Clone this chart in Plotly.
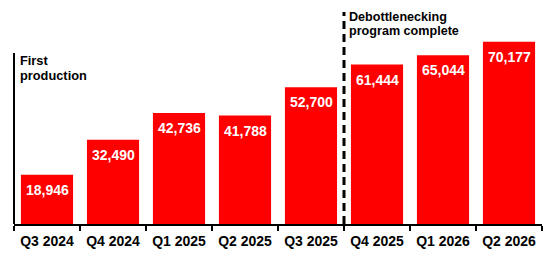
import plotly.graph_objects as go

categories = ["Q3 2024", "Q4 2024", "Q1 2025", "Q2 2025", "Q3 2025", "Q4 2025", "Q1 2026", "Q2 2026"]
values = [18946, 32490, 42736, 41788, 52700, 61444, 65044, 70177]
labels = [f"{v:,}" for v in values]

FONT = "Liberation Sans, Arial, sans-serif"
RED = "#FF0000"

fig = go.Figure()
fig.add_trace(go.Bar(
    x=categories, y=values, marker=dict(color=RED, line=dict(width=0)),
    width=0.79, hoverinfo="skip",
))

annotations = []
for c, v, t in zip(categories, values, labels):
    annotations.append(dict(
        x=c, y=v, xref="x", yref="y", text=f"<b>{t}</b>", showarrow=False,
        yanchor="top", yshift=-5, font=dict(family=FONT, size=14, color="white"),
    ))

# Text notes
annotations.append(dict(x=0, y=(224 - 51) / 204, xref="paper", yref="paper", xanchor="left", yanchor="top",
                        xshift=4, text="<b>First</b>", showarrow=False,
                        font=dict(family=FONT, size=12.8, color="black")))
annotations.append(dict(x=0, y=(224 - 65.5) / 204, xref="paper", yref="paper", xanchor="left", yanchor="top",
                        xshift=4, text="<b>production</b>", showarrow=False,
                        font=dict(family=FONT, size=12.8, color="black")))
annotations.append(dict(x=4.5, y=(224 - 8) / 204, xref="x", yref="paper", xanchor="left", yanchor="top",
                        xshift=3, text="<b>Debottlenecking</b>", showarrow=False,
                        font=dict(family=FONT, size=12.6, color="black")))
annotations.append(dict(x=4.5, y=(224 - 22) / 204, xref="x", yref="paper", xanchor="left", yanchor="top",
                        xshift=3, text="<b>program complete</b>", showarrow=False,
                        font=dict(family=FONT, size=12.6, color="black")))

shapes = [
    # left vertical line
    dict(type="line", xref="paper", yref="paper", x0=0, x1=0, y0=0, y1=(224 - 53) / 204,
         line=dict(color="black", width=2)),
    # dashed separator
    dict(type="line", xref="x", yref="paper", x0=4.5, x1=4.5, y0=0, y1=(224 - 12) / 204,
         line=dict(color="black", width=3, dash="8px,5px")),
]

fig.update_layout(
    width=550, height=254,
    margin=dict(l=14, r=8, t=20, b=30),
    paper_bgcolor="white", plot_bgcolor="white",
    showlegend=False,
    bargap=0.21,
    annotations=annotations,
    shapes=shapes,
    xaxis=dict(
        type="category", showline=True, linecolor="black", linewidth=2,
        ticks="outside", tickson="boundaries", ticklen=5, tickcolor="black", tickwidth=1.5,
        tickfont=dict(family=FONT, size=14, color="black"), ticklabelstandoff=3,
        automargin=False,
        showgrid=False, zeroline=False,
        tickvals=categories, ticktext=[f"<b>{c}</b>" for c in categories],
    ),
    yaxis=dict(range=[0, 78600], visible=False, showgrid=False, zeroline=False),
)

fig.write_html("out.html")
